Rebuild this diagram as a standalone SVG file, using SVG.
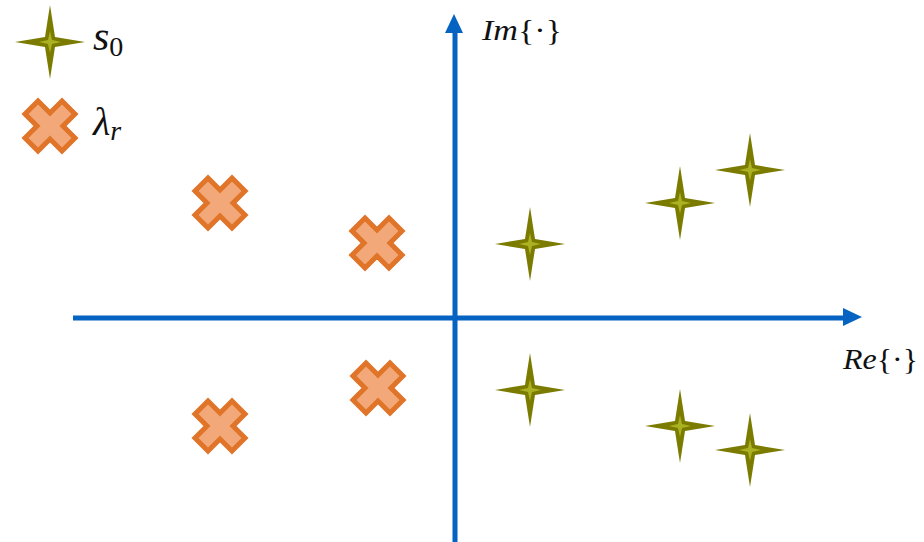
<svg xmlns="http://www.w3.org/2000/svg" xmlns:xlink="http://www.w3.org/1999/xlink" width="924" height="542" viewBox="0 0 924 542">
<style>
.axis{stroke:#0563C1;stroke-width:5;fill:none}
.head{fill:#0563C1}
text{fill:#111;font-family:'Liberation Serif','Times New Roman',Times,Tinos,'Noto Serif','DejaVu Serif',serif}
.starO{fill:#7B7B00}
.starI{fill:#AAB222}
.cross{fill:#F2A878;stroke:#E07428;stroke-width:5;stroke-linejoin:miter}
</style>
<defs>
<g id="star">
<path class="starO" d="M0,-37 L5,-5 L35,0 L5,5 L0,37 L-5,5 L-35,0 L-5,-5 Z"/>
<path class="starI" d="M0,-11 L2,-2 L11,0 L2,2 L0,11 L-2,2 L-11,0 L-2,-2 Z"/>
</g>
<path id="cross" class="cross" d="M0,-13 L12,-25 L25,-12 L13,0 L25,12 L12,25 L0,13 L-12,25 L-25,12 L-13,0 L-25,-12 L-12,-25 Z"/>
</defs>
<rect width="924" height="542" fill="#fff"/>
<g id="connectors">
<line class="axis" x1="73" y1="318" x2="846" y2="318"/>
<polygon class="head" points="862,317 843,308 843,326"/>
<line class="axis" x1="455" y1="542" x2="455" y2="30"/>
<polygon class="head" points="454,14 445,33 463,33"/>
</g>
<g id="label-im">
<text x="482" y="40" font-size="29" textLength="80" lengthAdjust="spacingAndGlyphs"><tspan font-style="italic">Im</tspan>{·}</text>
</g>
<g id="label-re">
<text x="843" y="369" font-size="29" textLength="75" lengthAdjust="spacingAndGlyphs"><tspan font-style="italic">Re</tspan>{·}</text>
</g>
<g id="legend-s0"><use xlink:href="#star" x="50" y="42"/>
<text x="93" y="50" font-style="italic" font-size="42">s<tspan font-style="normal" font-size="28" dy="6">0</tspan></text></g>
<g id="legend-lambda"><use xlink:href="#cross" x="50" y="126"/>
<text x="93" y="135" font-style="italic" font-size="40">λ<tspan font-size="28" dy="5">r</tspan></text></g>
<g id="s1"><use xlink:href="#star" x="530" y="244"/></g>
<g id="s2"><use xlink:href="#star" x="680" y="203"/></g>
<g id="s3"><use xlink:href="#star" x="750" y="170"/></g>
<g id="s4"><use xlink:href="#star" x="530" y="390"/></g>
<g id="s5"><use xlink:href="#star" x="680" y="426"/></g>
<g id="s6"><use xlink:href="#star" x="750" y="450"/></g>
<g id="l1"><use xlink:href="#cross" x="220" y="203"/></g>
<g id="l2"><use xlink:href="#cross" x="377" y="243"/></g>
<g id="l3"><use xlink:href="#cross" x="378" y="388"/></g>
<g id="l4"><use xlink:href="#cross" x="220" y="426"/></g>
</svg>
